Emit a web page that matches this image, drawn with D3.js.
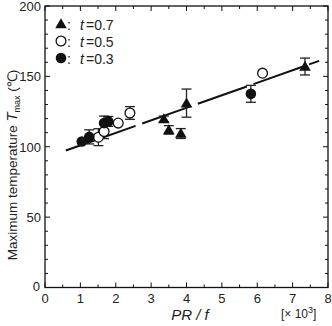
<!DOCTYPE html>
<html><head><meta charset="utf-8">
<script src="https://cdn.jsdelivr.net/npm/d3@7"></script>
<style>body{margin:0;background:#fff}svg{display:block}text{font-family:"Liberation Sans",Arial,sans-serif;fill:#222}</style>
</head><body>
<script>
// data
const xTicks = [0,1,2,3,4,5,6,7,8];
const yTicks = [0,50,100,150,200];
const t07X = [3.36, 3.50, 3.84, 4.00, 7.35];
const t07Y = [119.8, 112.0, 109.4, 131.0, 157.0];
const t07E = [2, 3, 3.5, 10, 6];
const t05X = [1.51, 1.67, 2.07, 2.40, 6.15];
const t05Y = [106.8, 110.8, 116.8, 124.0, 152.3];
const t05E = [6, 5, 0, 4.5, 0];
const t03X = [1.04, 1.25, 1.67, 1.79, 5.82];
const t03Y = [103.7, 107.0, 116.8, 118.0, 137.6];
const t03E = [0, 5, 5, 3.5, 6];
const fitX = [0.59, 7.75];
const fitIntercept = 92.05, fitSlope = 8.9;
const legendLabels = ["=0.7","=0.5","=0.3"];

const W=332,H=326;
const L=45,R=328,T=6,B=287.5;
const svg=d3.select("body").append("svg").attr("width",W).attr("height",H);
const x=d3.scaleLinear().domain([0,8]).range([L,R]);
const y=d3.scaleLinear().domain([0,200]).range([B,T]);
const ink="#111";

// frame
svg.append("rect").attr("x",L).attr("y",T).attr("width",R-L).attr("height",B-T)
  .attr("fill","none").attr("stroke",ink).attr("stroke-width",1.3);

// ticks (inward, all sides)
const xMinor=d3.range(0,8.01,0.5), yMinor=d3.range(0,200.1,10);
const tk=svg.append("g").attr("stroke",ink).attr("stroke-width",1);
xMinor.forEach(v=>{const len=(v%1===0)?5:3;
  tk.append("line").attr("x1",x(v)).attr("x2",x(v)).attr("y1",B).attr("y2",B-len);
  tk.append("line").attr("x1",x(v)).attr("x2",x(v)).attr("y1",T).attr("y2",T+len);});
yMinor.forEach(v=>{const len=(v%50===0)?5:3;
  tk.append("line").attr("y1",y(v)).attr("y2",y(v)).attr("x1",L).attr("x2",L+len);
  tk.append("line").attr("y1",y(v)).attr("y2",y(v)).attr("x1",R).attr("x2",R-len);});

// tick labels
svg.append("g").selectAll("text").data(xTicks).join("text")
  .attr("x",d=>x(d)).attr("y",B+15).attr("text-anchor","middle").attr("font-size",13).text(d=>d);
svg.append("g").selectAll("text").data(yTicks).join("text")
  .attr("x",d=>d===0?L-5:L-4).attr("y",d=>y(d)+(d===0?3:5)).attr("text-anchor","end").attr("font-size",13).text(d=>d);

// axis titles
svg.append("text").attr("x",190).attr("y",320).attr("text-anchor","middle").attr("font-size",15).attr("font-style","italic").text("PR / f");
const mult=svg.append("text").attr("x",281).attr("y",318).attr("font-size",12);
mult.append("tspan").text("[× 10");
mult.append("tspan").attr("dy",-5).attr("font-size",9).text("3");
mult.append("tspan").attr("dy",5).text("]");

const yt=svg.append("text").attr("transform","translate(17,165) rotate(-90)").attr("text-anchor","middle").attr("font-size",13.5);
yt.append("tspan").text("Maximum temperature  ");
yt.append("tspan").attr("font-style","italic").attr("font-size",15).text("T");
yt.append("tspan").attr("font-size",9).attr("dy",3).text("max");
yt.append("tspan").attr("dy",-3).text(" (℃)");

// fit line
svg.append("line").attr("x1",x(fitX[0])).attr("y1",y(fitIntercept+fitSlope*fitX[0]))
  .attr("x2",x(fitX[1])).attr("y2",y(fitIntercept+fitSlope*fitX[1]))
  .attr("stroke",ink).attr("stroke-width",2).attr("stroke-dasharray","52,7").attr("stroke-dashoffset",37);

// error bars
function errs(xs,ys,es){
  const g=svg.append("g").attr("stroke","#222").attr("stroke-width",1.3);
  xs.forEach((xv,i)=>{const e=es[i]; if(!e) return;
    const cx=x(xv), y1=y(ys[i]+e), y2=y(ys[i]-e);
    g.append("line").attr("x1",cx).attr("x2",cx).attr("y1",y1).attr("y2",y2);
    g.append("line").attr("x1",cx-5).attr("x2",cx+5).attr("y1",y1).attr("y2",y1);
    g.append("line").attr("x1",cx-5).attr("x2",cx+5).attr("y1",y2).attr("y2",y2);});
}
errs(t07X,t07Y,t07E); errs(t05X,t05Y,t05E); errs(t03X,t03Y,t03E);

const tri=d3.symbol().type(d3.symbolTriangle).size(58);
function triangles(xs,ys){svg.append("g").selectAll("path").data(xs).join("path")
  .attr("d",tri).attr("transform",(d,i)=>`translate(${x(d)},${y(ys[i])+1})`).attr("fill",ink);}
function circles(xs,ys,open){svg.append("g").selectAll("circle").data(xs).join("circle")
  .attr("cx",d=>x(d)).attr("cy",(d,i)=>y(ys[i])).attr("r",open?4.9:5.3)
  .attr("fill",open?"#fff":ink).attr("stroke",ink).attr("stroke-width",open?1.3:0);}
triangles(t07X,t07Y); circles(t05X,t05Y,true); circles(t03X,t03Y,false);

// legend
const ly=[25,42,59];
svg.append("path").attr("d",tri).attr("transform",`translate(61,${ly[0]})`).attr("fill",ink);
svg.append("circle").attr("cx",61).attr("cy",ly[1]-1).attr("r",4.9).attr("fill","#fff").attr("stroke",ink).attr("stroke-width",1.3);
svg.append("circle").attr("cx",61).attr("cy",ly[2]-1).attr("r",5.3).attr("fill",ink);
legendLabels.forEach((s,i)=>{
  const t=svg.append("text").attr("x",67).attr("y",ly[i]+5).attr("font-size",14);
  t.append("tspan").text(":");
  t.append("tspan").attr("x",80).attr("font-style","italic").text("t");
  t.append("tspan").attr("x",86).text(s);
});
</script>
</body></html>
